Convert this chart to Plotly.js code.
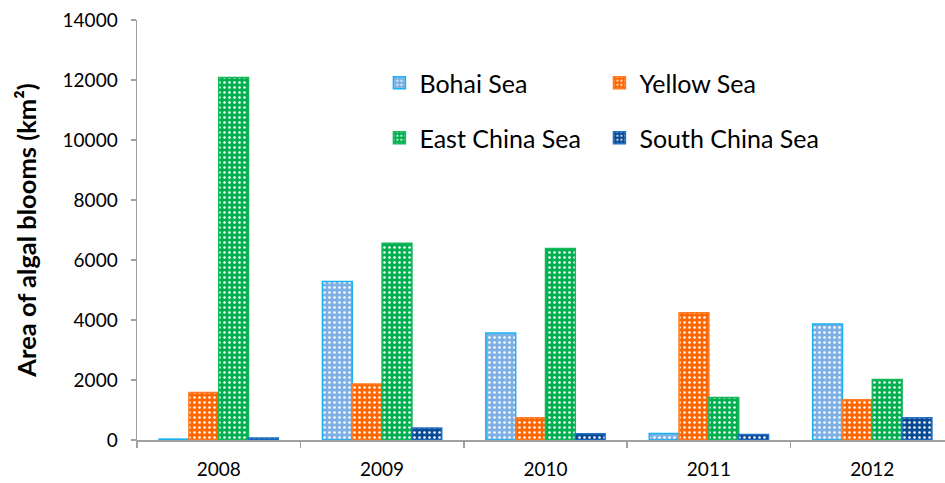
<!DOCTYPE html>
<html>
<head>
<meta charset="utf-8">
<script src="https://cdn.plot.ly/plotly-3.0.1.min.js"></script>
<style>html,body{margin:0;padding:0;background:#fff}#chart{width:945px;height:483px}</style>
</head>
<body>
<div id="chart"></div>
<script>
var years = ['2008', '2009', '2010', '2011', '2012'];
var bohai = [30, 5280, 3570, 220, 3870];
var yellow = [1580, 1870, 740, 4240, 1340];
var eastChina = [12080, 6560, 6380, 1420, 2020];
var southChina = [70, 400, 210, 180, 740];
var seriesNames = ['Bohai Sea', 'Yellow Sea', 'East China Sea', 'South China Sea'];

var fills = ['#7eb0e6', '#ff6600', '#00b050', '#0a4a94'];
var borders = ['#19b1ee', '#ff7a22', '#16b85a', '#1f72c6'];
var legendIds = ['legend', 'legend2', 'legend3', 'legend4'];
var dataSets = [bohai, yellow, eastChina, southChina];

var traces = dataSets.map(function (vals, i) {
  return {
    type: 'bar',
    name: seriesNames[i],
    x: years,
    y: vals,
    legend: legendIds[i],
    marker: {
      color: fills[i],
      line: {color: borders[i], width: 1.5},
      pattern: {shape: '.', fgcolor: '#ffffff', bgcolor: fills[i], size: 5, solidity: 0.2, fillmode: 'replace'}
    },
    hoverinfo: 'x+y+name'
  };
});

var fontFam = 'Lato, "Open Sans", sans-serif';
function legendAt(x, y) {
  return {
    x: x, y: y,
    xanchor: 'left',
    yanchor: 'middle',
    font: {family: fontFam, size: 25, color: '#000'},
    bgcolor: 'rgba(0,0,0,0)'
  };
}

var layout = {
  width: 945,
  height: 483,
  margin: {l: 137, r: 0, t: 20, b: 43},
  paper_bgcolor: '#fff',
  plot_bgcolor: '#fff',
  barmode: 'group',
  bargap: 0.27,
  bargroupgap: 0,
  font: {family: fontFam, color: '#000'},
  xaxis: {
    type: 'category',
    range: [-0.5, 4.445],
    showline: true,
    linecolor: '#a0a0a0',
    linewidth: 1.5,
    ticks: 'outside',
    tickson: 'boundaries',
    ticklen: 6,
    tickcolor: '#a0a0a0',
    tickwidth: 1.5,
    ticklabelstandoff: 12,
    tickfont: {family: fontFam, size: 19, color: '#000'},
    showgrid: false,
    zeroline: false,
    fixedrange: true
  },
  yaxis: {
    range: [0, 14000],
    dtick: 2000,
    tick0: 0,
    tickformat: 'd',
    showline: true,
    linecolor: '#a0a0a0',
    linewidth: 1.5,
    ticks: 'outside',
    ticklen: 5,
    tickcolor: '#a0a0a0',
    tickwidth: 1.5,
    ticklabelstandoff: 9,
    tickfont: {family: fontFam, size: 19, color: '#000'},
    showgrid: false,
    zeroline: false,
    title: {text: '<b>Area of algal blooms (km²)</b>', font: {family: fontFam, size: 25.5, color: '#000'}, standoff: 18},
    fixedrange: true
  },
  legend: legendAt(0.3, 0.85),
  legend2: legendAt(0.5723, 0.85),
  legend3: legendAt(0.3, 0.719),
  legend4: legendAt(0.5723, 0.719),
  showlegend: true
};

Plotly.newPlot('chart', traces, layout, {displayModeBar: false, staticPlot: true});
</script>
</body>
</html>
